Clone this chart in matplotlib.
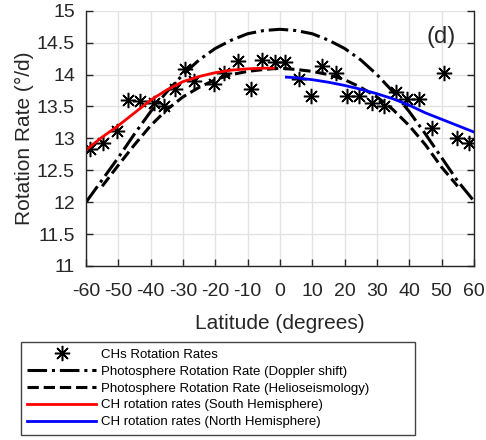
import matplotlib
matplotlib.use("Agg")
import matplotlib.pyplot as plt
from matplotlib.ticker import FuncFormatter

plt.rcParams["font.family"] = ["Liberation Sans", "DejaVu Sans"]
plt.rcParams["axes.unicode_minus"] = False

# CH rotation rates (stars)
lat_ch = [-58.8, -54.6, -50.3, -46.9, -43.3, -39.1, -35.8, -32.4, -29.3, -26.7,
          -20.5, -17.4, -13.1, -9.1, -5.5, -1.5, 1.7, 5.8, 9.5, 13.1,
          17.2, 20.8, 24.4, 28.6, 32.2, 35.8, 39.4, 43.0, 47.2, 50.8, 54.9, 58.5]
rate_ch = [12.84, 12.92, 13.11, 13.60, 13.59, 13.55, 13.50, 13.77, 14.09, 13.90,
           13.85, 14.02, 14.21, 13.77, 14.23, 14.19, 14.19, 13.93, 13.67, 14.14,
           14.03, 13.67, 13.67, 13.56, 13.51, 13.72, 13.61, 13.62, 13.17, 14.03, 13.01, 12.93]

# photosphere, Doppler shift
lat_dop = [-60, -55, -50, -45, -40, -35, -30, -25, -20, -15, -10, -5, 0,
           5, 10, 15, 20, 25, 30, 35, 40, 45, 50, 55, 60]
rate_dop = [12.0, 12.35, 12.7, 13.07, 13.42, 13.73, 14.0, 14.23, 14.41, 14.54, 14.64, 14.69, 14.71,
            14.69, 14.64, 14.54, 14.41, 14.23, 14.0, 13.73, 13.42, 13.07, 12.7, 12.33, 12.02]

# photosphere, helioseismology
lat_hel = [-55, -50, -45, -40, -35, -30, -25, -20, -15, -10, -5, 0,
           5, 10, 15, 20, 25, 30, 35, 40, 45, 50, 55]
rate_hel = [12.25, 12.58, 12.9, 13.2, 13.45, 13.65, 13.8, 13.92, 14.0, 14.05, 14.08, 14.1,
            14.08, 14.05, 14.0, 13.92, 13.8, 13.65, 13.45, 13.2, 12.9, 12.55, 12.25]

# fits, south / north hemisphere
lat_south = [-60, -55, -50, -45, -40, -35, -30, -25, -20, -15, -10, -5, -2]
rate_south = [12.82, 13.02, 13.2, 13.4, 13.6, 13.76, 13.89, 13.97, 14.03, 14.07, 14.09, 14.1, 14.1]
lat_north = [2, 5, 10, 15, 20, 25, 30, 35, 40, 45, 50, 55, 60]
rate_north = [13.96, 13.95, 13.92, 13.88, 13.83, 13.77, 13.7, 13.62, 13.52, 13.4, 13.3, 13.2, 13.1]

x_ticks = list(range(-60, 61, 10))
y_ticks = [11, 11.5, 12, 12.5, 13, 13.5, 14, 14.5, 15]

fig = plt.figure(figsize=(4.86, 4.40), dpi=100)
ax = fig.add_axes([0.177, 0.3955, 0.798, 0.58])

ax.plot(lat_ch, rate_ch, linestyle="none", marker=(8, 2, 0), markersize=11,
        markeredgewidth=1.1, color="black", label="CHs Rotation Rates")
ax.plot(lat_dop, rate_dop, "-.", color="black", lw=2.2,
        label="Photosphere Rotation Rate (Doppler shift)")
ax.plot(lat_hel, rate_hel, "--", color="black", lw=2.2,
        label="Photosphere Rotation Rate (Helioseismology)")
ax.plot(lat_south, rate_south, "-", color="red", lw=2,
        label="CH rotation rates (South Hemisphere)")
ax.plot(lat_north, rate_north, "-", color="blue", lw=2,
        label="CH rotation rates (North Hemisphere)")

ax.set_xlim(-60, 60)
ax.set_ylim(11, 15)
ax.set_xticks(x_ticks)
ax.set_yticks(y_ticks)
ax.yaxis.set_major_formatter(FuncFormatter(lambda v, p: f"{v:g}"))
ax.grid(True, color="#e3e3e3", lw=1)
ax.set_axisbelow(True)

for s in ["left", "bottom", "right"]:
    ax.spines[s].set_color("#262626")
    ax.spines[s].set_linewidth(1)
ax.spines["top"].set_visible(False)
ax.tick_params(direction="in", length=5, width=1, color="#262626",
               labelsize=14, labelcolor="#262626", right=True)
ax.tick_params(axis="x", pad=12)
ax.tick_params(axis="y", pad=8)

ax.set_xlabel("Latitude (degrees)", fontsize=15, color="#262626", labelpad=10)
ax.set_ylabel("Rotation Rate (°/d)", fontsize=15, color="#262626", labelpad=2)
ax.text(49.8, 14.59, "(d)", fontsize=17, ha="center", va="center", color="#262626")

leg = fig.legend(loc="upper left", bbox_to_anchor=(0.043, 0.0, 0.811, 0.2227),
                 mode="expand", borderaxespad=0, fontsize=9.5, handlelength=5.2,
                 handletextpad=0.4, labelspacing=0.35, borderpad=0.5,
                 fancybox=False, framealpha=1, edgecolor="#444444")
leg.get_frame().set_linewidth(1)

fig.savefig("out.png", dpi=100)
